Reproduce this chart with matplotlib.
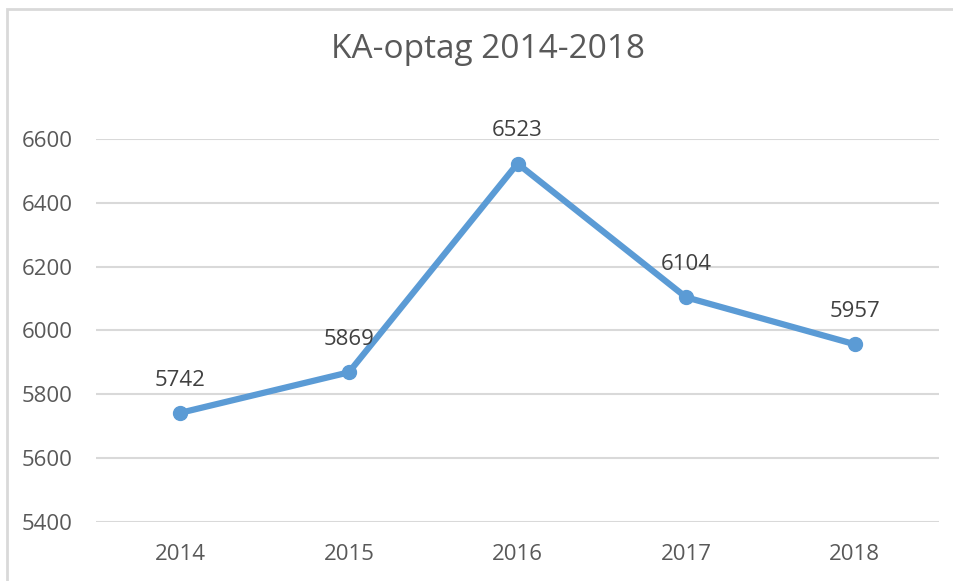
import matplotlib.pyplot as plt
from matplotlib.patches import Rectangle

# data
years = ["2014", "2015", "2016", "2017", "2018"]
optag = [5742, 5869, 6523, 6104, 5957]
y_ticks = [5400, 5600, 5800, 6000, 6200, 6400, 6600]

plt.rcParams['font.family'] = ['Open Sans', 'DejaVu Sans']

fig = plt.figure(figsize=(9.54, 5.81), dpi=100)
ax = fig.add_axes([96 / 954, 1 - 522 / 581, 843 / 954, 383 / 581])

# light border around chart (right/bottom cut off as in reference)
fig.patches.append(Rectangle((7.5 / 954, -0.1), 1.2, 1 - 8.5 / 581 + 0.1,
                             transform=fig.transFigure, fill=False,
                             edgecolor='#D9D9D9', linewidth=2))

x = list(range(len(years)))
ax.plot(x, optag, color='#5B9BD5', linewidth=4.5, marker='o', markersize=10,
        solid_capstyle='round', zorder=3)

for xi, v in zip(x, optag):
    ax.annotate(str(v), (xi, v), xytext=(0, 16), textcoords='offset points',
                ha='center', va='bottom', fontsize=16, color='#404040')

ax.set_xlim(-0.5, len(years) - 0.5)
ax.set_ylim(5400, 6600)
ax.set_yticks(y_ticks)
ax.set_xticks(x)
ax.set_xticklabels(years)
ax.grid(axis='y', color='#D9D9D9', linewidth=1.5)
ax.set_axisbelow(True)
for s in ax.spines.values():
    s.set_visible(False)
ax.tick_params(axis='both', length=0, labelsize=16, labelcolor='#595959')
ax.tick_params(axis='y', pad=17)
ax.tick_params(axis='x', pad=16)

fig.text(488 / 954, 1 - 50 / 581, "KA-optag 2014-2018", ha='center', va='center',
         fontsize=24, color='#595959')

fig.savefig('out.png', dpi=100)
